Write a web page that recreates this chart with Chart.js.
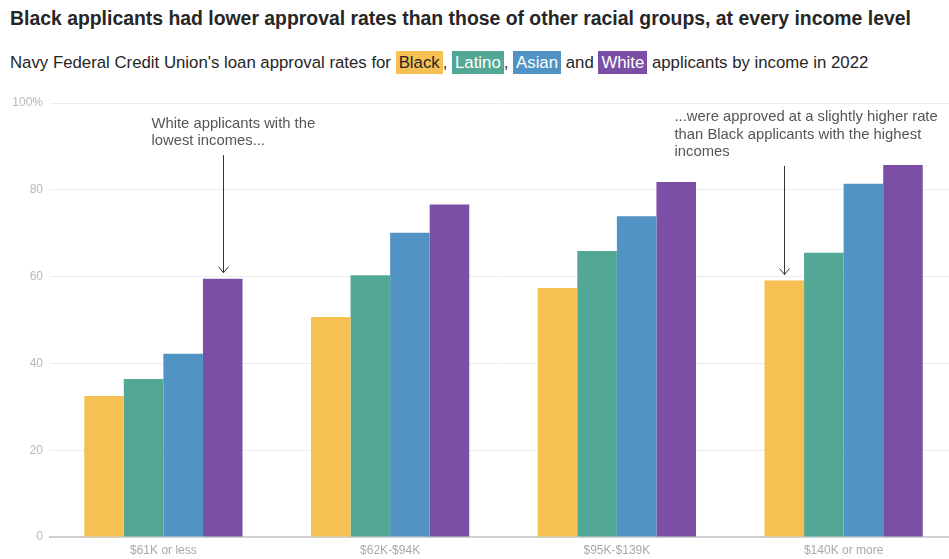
<!DOCTYPE html>
<html>
<head>
<meta charset="utf-8">
<script src="https://cdn.jsdelivr.net/npm/chart.js@4"></script>
<style>
  html, body { margin: 0; padding: 0; background: #fff; overflow: hidden; width: 949px; height: 559px; }
  body { font-family: "Liberation Sans", Arial, sans-serif; position: relative; }
  #title { position: absolute; left: 10px; top: 7px; font-size: 19.4px; font-weight: bold; color: #262626; white-space: nowrap; }
  #sub { position: absolute; left: 10px; top: 53px; font-size: 16.8px; color: #262626; white-space: nowrap; }
  #sub span { padding: 2px 3px; }
  #wrap { position: absolute; left: 0; top: 88px; width: 957px; height: 471px; }
</style>
</head>
<body>
<div id="title">Black applicants had lower approval rates than those of other racial groups, at every income level</div>
<div id="sub">Navy Federal Credit Union's loan approval rates for <span style="background:#f6c052;color:#262626">Black</span>, <span style="background:#53a795;color:#fff">Latino</span>, <span style="background:#5093c4;color:#fff">Asian</span> and <span style="background:#7b4fa6;color:#fff">White</span> applicants by income in 2022</div>
<div id="wrap"><canvas id="chart"></canvas></div>
<script>
const incomes = ['$61K or less', '$62K-$94K', '$95K-$139K', '$140K or more'];
const black  = [32.5, 50.7, 57.4, 59.1];
const latino = [36.4, 60.3, 65.9, 65.5];
const asian  = [42.2, 70.1, 73.9, 81.4];
const white  = [59.5, 76.6, 81.8, 85.7];
const yTicks = [0, 20, 40, 60, 80, 100];

const colors = ['#f6c052', '#53a795', '#5093c4', '#7b4fa6'];

// notes: which bar the arrow points at, and the value where the arrow starts
const notes = [
    { ds: 3, idx: 0, from: 88, dx: -72, lines: ['White applicants with the', 'lowest incomes...'] },
    { ds: 0, idx: 3, from: 85.5, dx: -110, lines: ['...were approved at a slightly higher rate', 'than Black applicants with the highest', 'incomes'] }
];

const notePlugin = {
    id: 'notes',
    afterDatasetsDraw(chart) {
        const ctx = chart.ctx;
        const y = chart.scales.y;
        ctx.save();
        notes.forEach(n => {
            const bar = chart.getDatasetMeta(n.ds).data[n.idx];
            const x = Math.round(bar.x) + 0.5;
            const top = y.getPixelForValue(n.from);
            const tip = bar.y - 6;
            ctx.strokeStyle = '#333';
            ctx.lineWidth = 1;
            ctx.beginPath();
            ctx.moveTo(x, top);
            ctx.lineTo(x, tip);
            ctx.moveTo(x - 5, tip - 6);
            ctx.lineTo(x, tip);
            ctx.lineTo(x + 5, tip - 6);
            ctx.stroke();
            ctx.fillStyle = '#555';
            ctx.font = '14.8px "Liberation Sans", Arial, sans-serif';
            ctx.textBaseline = 'middle';
            ctx.textAlign = 'left';
            const lh = 17.4;
            n.lines.forEach((t, i) => {
                ctx.fillText(t, x + n.dx, top - 14 - (n.lines.length - 1 - i) * lh);
            });
        });
        ctx.restore();
    }
};

const data = {
    labels: incomes,
    datasets: [
        { label: 'Black', data: black, backgroundColor: colors[0] },
        { label: 'Latino', data: latino, backgroundColor: colors[1] },
        { label: 'Asian', data: asian, backgroundColor: colors[2] },
        { label: 'White', data: white, backgroundColor: colors[3] }
    ]
};

new Chart(document.getElementById('chart'), {
    type: 'bar',
    data: data,
    plugins: [notePlugin],
    options: {
        responsive: true,
        maintainAspectRatio: false,
        animation: false,
        layout: { padding: { top: 15, bottom: 0, right: 0 } },
        datasets: { bar: { categoryPercentage: 0.698, barPercentage: 1 } },
        plugins: { legend: { display: false }, tooltip: { enabled: false } },
        scales: {
            x: {
                afterFit: s => { s.height = 22; },
                grid: { display: false, drawTicks: false },
                border: { display: true, color: '#d0d0d0', width: 2 },
                ticks: {
                    color: '#a8a8a8',
                    padding: 6,
                    font: { family: '"Liberation Sans", Arial, sans-serif', size: 12 }
                }
            },
            y: {
                min: 0,
                max: 100,
                afterBuildTicks: s => { s.ticks = yTicks.map(v => ({ value: v })); },
                afterFit: s => { s.width = 50; },
                border: { display: false },
                grid: { color: '#ececec', drawTicks: false },
                ticks: {
                    color: '#b8b8b8',
                    padding: 7,
                    font: { family: '"Liberation Sans", Arial, sans-serif', size: 12 },
                    callback: v => v === 100 ? '100%' : v
                }
            }
        }
    }
});
</script>
</body>
</html>
